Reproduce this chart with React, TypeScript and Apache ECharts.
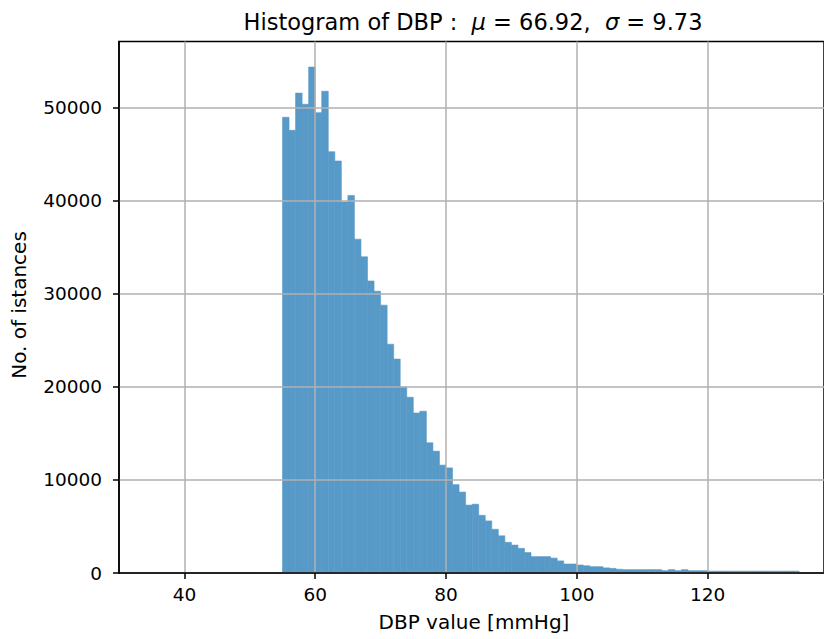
import React, { useEffect, useRef } from "react";
import * as echarts from "echarts";

// Histogram bins: width 1 mmHg, first edge 55
const BIN_START = 55;
const BIN_WIDTH = 1;
const COUNTS: number[] = [
  49000, 47600, 51600, 50400, 54400, 49500, 51800, 45300, 44300, 39900,
  40600, 35900, 34000, 31400, 30300, 28800, 24600, 23000, 20000, 18900,
  17200, 17400, 14000, 13100, 11600, 11300, 9500, 8700, 7300, 7400,
  6200, 5600, 4700, 4000, 3300, 3000, 2650, 2200, 1760, 1760,
  1760, 1600, 1300, 970, 970, 860, 780, 680, 680, 550,
  500, 400, 360, 360, 360, 360, 360, 360, 250, 360,
  250, 360, 250, 250, 250, 200, 200, 200, 200, 200,
  200, 200, 200, 200, 200, 200, 200, 200, 200,
];
const X_TICKS = [40, 60, 80, 100, 120];
const Y_TICKS = [0, 10000, 20000, 30000, 40000, 50000];
const X_MIN = 30;
const X_MAX = 137.8;
const Y_MAX = 57150;

const FONT = "DejaVu Sans";
const BAR_COLOR = "#5799c7";

export default function App() {
  const ref = useRef<HTMLDivElement>(null);
  useEffect(() => {
    if (!ref.current) return;
    const chart = echarts.init(ref.current, null, { renderer: "svg" });
    const data = COUNTS.map((c, i) => [
      BIN_START + i * BIN_WIDTH,
      BIN_START + (i + 1) * BIN_WIDTH,
      c,
    ]);
    const axisCommon = {
      axisLine: { show: true, lineStyle: { color: "#000", width: 1.5 } },
      axisTick: { show: true, length: 6, lineStyle: { color: "#000", width: 1.5 } },
      splitLine: { show: true, lineStyle: { color: "#b0b0b0", width: 1.5 } },
    };
    chart.setOption({
      animation: false,
      backgroundColor: "#fff",
      grid: {
        left: 119,
        right: -1,
        top: 41.5,
        bottom: 66,
        show: true,
        borderColor: "#000",
        borderWidth: 1.5,
        backgroundColor: "transparent",
      },
      xAxis: {
        type: "value",
        min: X_MIN,
        max: X_MAX,
        z: 5,
        ...axisCommon,
        axisTick: { ...axisCommon.axisTick, customValues: X_TICKS },
        axisLabel: {
          customValues: X_TICKS,
          color: "#000",
          fontFamily: FONT,
          fontSize: 18.5,
          margin: 12,
          formatter: (v: number) => String(v),
        },
      },
      yAxis: {
        type: "value",
        min: 0,
        max: Y_MAX,
        z: 5,
        ...axisCommon,
        axisTick: { ...axisCommon.axisTick, customValues: Y_TICKS },
        axisLabel: {
          customValues: Y_TICKS,
          color: "#000",
          fontFamily: FONT,
          fontSize: 18.5,
          margin: 17,
          formatter: (v: number) => String(v),
        },
      },
      graphic: [
        {
          type: "text",
          x: 473,
          y: 22,
          style: {
            text: "{a|Histogram of DBP :  }{i|μ}{a| = 66.92,  }{i|σ}{a| = 9.73}",
            rich: {
              a: { fontFamily: FONT, fontSize: 22.5, fill: "#000", color: "#000" },
              i: { fontFamily: FONT, fontSize: 22.5, fontStyle: "italic", fill: "#000", color: "#000" },
            },
            align: "center",
            verticalAlign: "middle",
            textAlign: "center",
            textVerticalAlign: "middle",
          },
        },
        {
          type: "text",
          x: 474,
          y: 622,
          style: {
            text: "DBP value [mmHg]",
            fontFamily: FONT,
            fontSize: 20,
            fill: "#000",
            align: "center",
            verticalAlign: "middle",
            textAlign: "center",
            textVerticalAlign: "middle",
          },
        },
        {
          type: "text",
          x: 19,
          y: 305,
          rotation: Math.PI / 2,
          style: {
            text: "No. of istances",
            fontFamily: FONT,
            fontSize: 20,
            fill: "#000",
            align: "center",
            verticalAlign: "middle",
            textAlign: "center",
            textVerticalAlign: "middle",
          },
        },
      ],
      series: [
        {
          type: "custom",
          z: 2,
          data,
          encode: { x: [0, 1], y: 2 },
          renderItem: (params: any, api: any) => {
            const x0 = api.value(0);
            const x1 = api.value(1);
            const c = api.value(2);
            const p0 = api.coord([x0, c]);
            const p1 = api.coord([x1, 0]);
            return {
              type: "rect",
              shape: { x: p0[0], y: p0[1], width: p1[0] - p0[0], height: p1[1] - p0[1] },
              style: { fill: BAR_COLOR, stroke: BAR_COLOR, lineWidth: 0.6 },
            };
          },
        },
      ],
    });
    return () => chart.dispose();
  }, []);
  return (
    <div
      ref={ref}
      style={{ position: "fixed", left: 0, top: 0, width: 824, height: 639, overflow: "hidden" }}
    />
  );
}
